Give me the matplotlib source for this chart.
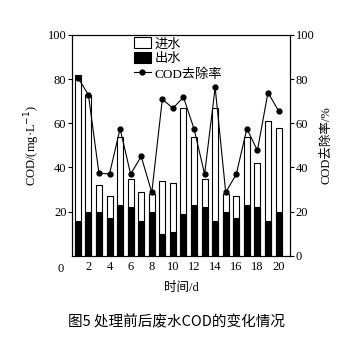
import matplotlib
matplotlib.use('Agg')
import matplotlib.pyplot as plt

plt.rcParams['font.family'] = ['Liberation Serif', 'Noto Sans CJK SC']

days = list(range(1, 21))
inflow = [82, 73, 32, 27, 54, 35, 29, 28, 34, 33, 67, 54, 35, 67, 28, 27, 54, 42, 61, 58]
outflow = [16, 20, 20, 17, 23, 22, 16, 20, 10, 11, 19, 23, 22, 16, 20, 17, 23, 22, 16, 20]
removal = [80.7, 72.9, 37.4, 37.1, 57.5, 37.0, 45.0, 28.7, 70.9, 66.8,
           71.8, 57.5, 37.0, 76.2, 28.7, 37.0, 57.5, 47.7, 73.9, 65.6]

fig = plt.figure(figsize=(3.53, 3.52), dpi=100)
ax = fig.add_axes([0.204, 0.273, 0.618, 0.628])

b1 = ax.bar(days, inflow, width=0.57, color='white', edgecolor='black', linewidth=0.8, label=u'进水')
b2 = ax.bar(days, outflow, width=0.57, color='black', edgecolor='black', linewidth=0.8, label=u'出水')
ax.set_xlim(0.45, 21.1)
ax.set_ylim(0, 100)
ax.set_xticks(range(2, 21, 2))
ax.set_yticks([20, 40, 60, 80, 100])
ax.tick_params(axis='x', length=0, labelsize=9, pad=4)
ax.tick_params(axis='y', length=3, labelsize=9, pad=1)
ax.text(-0.05, -0.03, '0', transform=ax.transAxes, fontsize=9, ha='center', va='top')
ax.set_ylabel(u'COD/(mg·L$^{-1}$)', fontsize=9, labelpad=4)
ax.set_xlabel(u'时间/d', fontsize=9, labelpad=6)

ax2 = ax.twinx()
l1, = ax2.plot(days, removal, color='black', linewidth=0.8, marker='o', markersize=3.5, label=u'COD去除率')
ax2.set_ylim(0, 100)
ax2.set_yticks([0, 20, 40, 60, 80, 100])
ax2.tick_params(axis='y', length=3, labelsize=9, pad=1)
ax2.set_ylabel(u'COD去除率/%', fontsize=9, labelpad=4)

ax.legend([b1, b2, l1], [u'进水', u'出水', u'COD去除率'], loc='upper left',
          bbox_to_anchor=(0.24, 1.03), frameon=False, fontsize=9.5,
          handlelength=1.3, handleheight=0.9, labelspacing=0.15, handletextpad=0.3, borderpad=0.2)

fig.text(0.5, 0.085, u'图5 处理前后废水COD的变化情况', ha='center', va='center',
         fontsize=10.5, family=['Noto Sans CJK SC', 'DejaVu Sans'])

fig.savefig('out.png', dpi=100)
